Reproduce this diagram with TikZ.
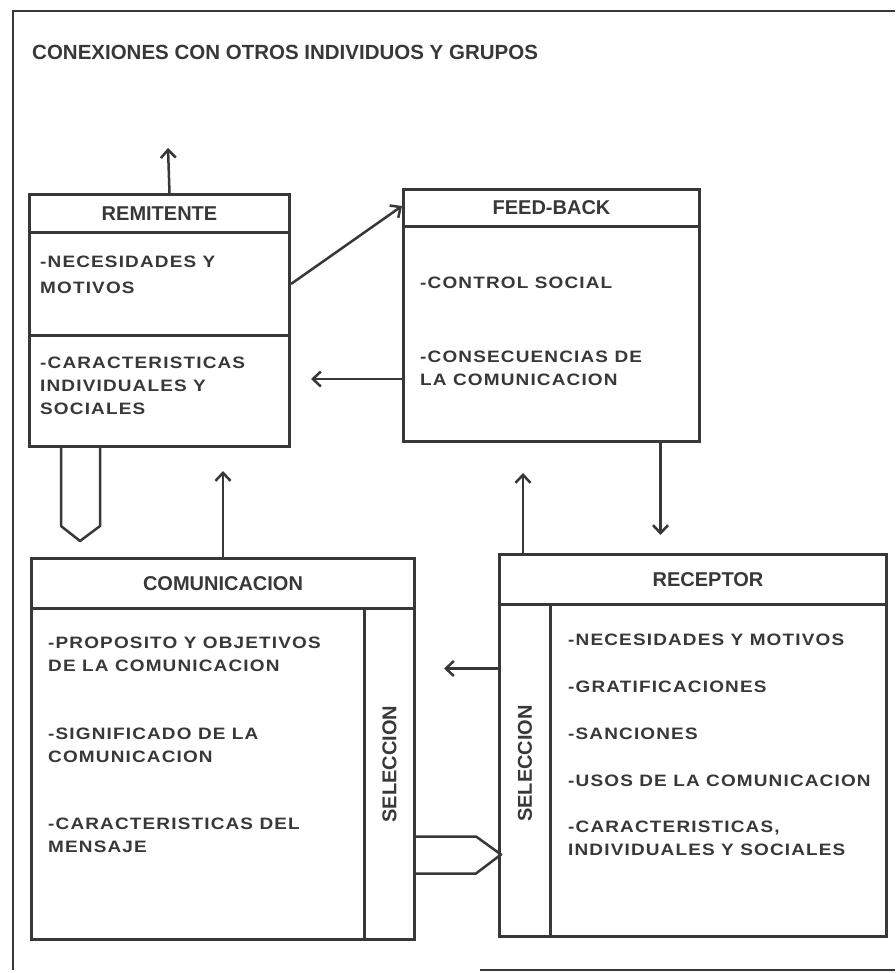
\documentclass[tikz,border=0pt]{standalone}
\usepackage{fontspec}
\setmainfont{Liberation Sans}
\newfontfamily\widefont{Liberation Sans}[FakeStretch=1.15,LetterSpace=7]
\usetikzlibrary{arrows.meta}
\usetikzlibrary{calc}
\definecolor{ink}{HTML}{383838}
\tikzset{box/.style = {draw = ink, line width = 3pt, anchor = north west, inner sep = 0}}
\tikzset{head/.style = {box, text = ink, font = \bfseries\fontsize{20}{24}\selectfont}}
\tikzset{item/.style = {anchor = west, inner sep = 0, align = left, text = ink, font = \widefont\bfseries\fontsize{16.5}{23}\selectfont}}
\tikzset{sel/.style = {rotate = 90, inner sep = 0, text = ink, font = \bfseries\fontsize{20}{24}\selectfont}}
\tikzset{arr/.style = {-{Straight Barb[length = 8pt, width = 15pt]}, draw = ink, line width = 2.5pt}}
\tikzset{block/.style = {draw = ink, line width = 2.5pt, line join = round}}

\begin{document}
\begin{tikzpicture}[x = 1pt, y = -1pt]

      \useasboundingbox (0, 0) rectangle (895, 973);
      \fill[white] (0, 0) rectangle (895, 973);
      \draw[ink, line width = 2.5pt] (895, 11) -- (13, 11) -- (13, 970);
      \draw[ink, line width = 2.5pt] (480, 970) -- (895, 970);

      \node [anchor = west, inner sep = 0, text = ink, font = \bfseries\fontsize{20.5}{24}\selectfont] (titulo) at (32, 52) {CONEXIONES CON OTROS INDIVIDUOS Y GRUPOS};
      \coordinate (conex) at (168, 148);

      \node [head, minimum width = 260pt, minimum height = 38pt] (remhead) at (28, 193) {REMITENTE};
      \node [box, minimum width = 260pt, minimum height = 103pt] (remnec) at (28, 231) {};
      \node [box, minimum width = 260pt, minimum height = 111pt] (remcar) at (28, 334) {};

      \node [head, minimum width = 296pt, minimum height = 37pt] (fbhead) at (402, 188) {FEED-BACK};
      \node [box, minimum width = 296pt, minimum height = 215pt] (fb) at (402, 225) {};

      \node [head, minimum width = 383pt, minimum height = 50pt] (comhead) at (30, 557) {COMUNICACION};
      \node [box, minimum width = 333pt, minimum height = 331pt] (combody) at (30, 607) {};
      \node [box, minimum width = 50pt, minimum height = 331pt] (comsel) at (363, 607) {};

      \node [head, minimum width = 387pt, minimum height = 50pt] (rechead) at (498, 553) {\hspace*{30pt}RECEPTOR};
      \node [box, minimum width = 51pt, minimum height = 332pt] (recsel) at (498, 603) {};
      \node [box, minimum width = 336pt, minimum height = 332pt] (recbody) at (549, 603) {};

      \node [item, font = \widefont\bfseries\fontsize{16.5}{26}\selectfont] (remnectxt) at (40, 275) {-NECESIDADES Y\\MOTIVOS};
      \node [item] (remcartxt) at (40, 386) {-CARACTERISTICAS\\INDIVIDUALES Y\\SOCIALES};

      \node [item] (fbcontrol) at (420, 283) {-CONTROL SOCIAL};
      \node [item] (fbconsec) at (420, 368) {-CONSECUENCIAS DE\\LA COMUNICACION};

      \node [item] (comprop) at (48, 654) {-PROPOSITO Y OBJETIVOS\\DE LA COMUNICACION};
      \node [item] (comsig) at (48, 745) {-SIGNIFICADO DE LA\\COMUNICACION};
      \node [item] (comcar) at (48, 835) {-CARACTERISTICAS DEL\\MENSAJE};
      \node [sel] (comseltxt) at ([yshift = 10pt]comsel.center) {SELECCION};

      \node [item] (recnec) at (568, 640) {-NECESIDADES Y MOTIVOS};
      \node [item] (recgrat) at (568, 687) {-GRATIFICACIONES};
      \node [item] (recsanc) at (568, 734) {-SANCIONES};
      \node [item] (recusos) at (568, 781) {-USOS DE LA COMUNICACION};
      \node [item] (reccar) at (568, 838) {-CARACTERISTICAS,\\INDIVIDUALES Y SOCIALES};
      \node [sel] (recseltxt) at ([yshift = 7pt]recsel.center) {SELECCION};

      \draw [arr] ([xshift = 10pt]remhead.north) -- (conex);
      \draw [arr] (remnec.east) -- ([yshift = 2pt]fbhead.west);
      \draw [arr, shorten > = 20pt] ([yshift = -45pt]fb.west) -- ([yshift = -45pt]fb.west -| remcar.east);
      \draw [arr, shorten > = 23pt] (comhead.north) -- (comhead.north |- remcar.south);
      \draw [arr, shorten > = 18pt] ([xshift = 109pt]fb.south) -- ([xshift = 109pt]fb.south |- rechead.north);
      \draw [arr, shorten > = 30pt] ([xshift = -170pt]rechead.north) -- ([xshift = -170pt]rechead.north |- fb.south);
      \draw [arr, shorten > = 28pt] ([yshift = 102pt]recsel.west) -- ([yshift = 102pt]recsel.west -| comsel.east);

      \draw [block] ([xshift = 33pt]remcar.south west) -- ++(0, 78) -- ++(19, 15) -- ++(20, -15) -- ++(0, -78);
      \draw [block] ([yshift = -62.5pt]comsel.east) -- ++(60, 0) -- ++(25, 18) -- ++(-25, 19) -- ++(-60, 0);
    \end{tikzpicture}
\end{document}
